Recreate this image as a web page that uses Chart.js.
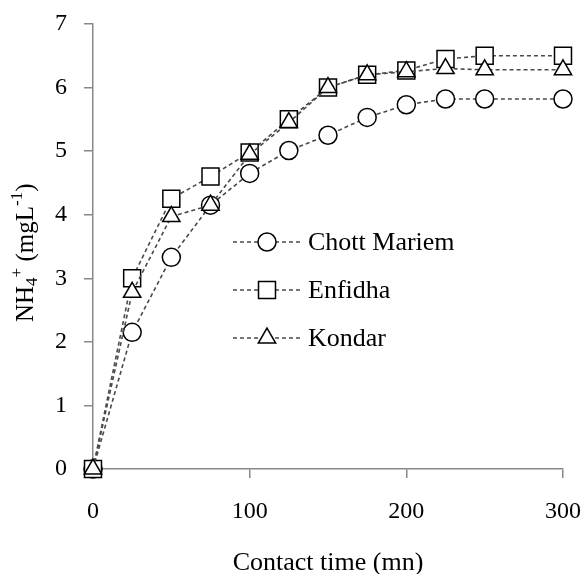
<!DOCTYPE html>
<html><head><meta charset="utf-8">
<script src="https://cdn.jsdelivr.net/npm/chart.js@4/dist/chart.umd.min.js"></script>
<style>html,body{margin:0;padding:0;background:#fff}#wrap{width:585px;height:574px}</style>
</head><body><div id="wrap"><canvas id="c" width="585" height="574"></canvas></div>
<script>
const contactTime = [0, 25, 50, 75, 100, 125, 150, 175, 200, 225, 250, 300];
const chottMariem = [0, 2.15, 3.33, 4.15, 4.65, 5.01, 5.25, 5.53, 5.73, 5.82, 5.82, 5.82];
const enfidha     = [0, 3.00, 4.25, 4.60, 4.98, 5.50, 6.00, 6.20, 6.27, 6.45, 6.50, 6.50];
const kondar      = [0, 2.78, 3.97, 4.15, 4.95, 5.45, 6.00, 6.20, 6.25, 6.30, 6.28, 6.28];
const seriesNames = ['Chott Mariem', 'Enfidha', 'Kondar'];
const xAxisTitle = 'Contact time (mn)';
const yAxisTitleParts = ['NH', '4', '+', ' (mgL', '-1', ')'];

const FONT = "'Liberation Serif', 'Times New Roman', serif";
const pts = arr => contactTime.map((t, i) => ({x: t, y: arr[i]}));

function ds(label, arr, style, radius, order) {
  return {
    label, data: pts(arr), order,
    pointStyle: style, pointRadius: radius, pointHoverRadius: radius,
    pointBackgroundColor: '#fff', pointBorderColor: '#000', pointBorderWidth: 1.5,
    borderColor: '#4a4a4a', borderWidth: 1.6, borderDash: [4, 3],
    tension: 0, fill: false, clip: false
  };
}

function drawMarker(ctx, style, x, y, r) {
  ctx.save();
  ctx.fillStyle = '#fff'; ctx.strokeStyle = '#000'; ctx.lineWidth = 1.5; ctx.setLineDash([]);
  ctx.beginPath();
  if (style === 'circle') {
    ctx.arc(x, y, r, 0, Math.PI * 2);
  } else if (style === 'rect') {
    const s = Math.SQRT1_2 * r;
    ctx.rect(x - s, y - s, 2 * s, 2 * s);
  } else if (style === 'triangle') {
    const a = -Math.PI / 2;
    ctx.moveTo(x + Math.cos(a) * r, y + Math.sin(a) * r);
    ctx.lineTo(x + Math.cos(a + 2 * Math.PI / 3) * r, y + Math.sin(a + 2 * Math.PI / 3) * r);
    ctx.lineTo(x + Math.cos(a + 4 * Math.PI / 3) * r, y + Math.sin(a + 4 * Math.PI / 3) * r);
    ctx.closePath();
  }
  ctx.fill(); ctx.stroke();
  ctx.restore();
}

const legendPlugin = {
  id: 'customLegend',
  afterDraw(chart) {
    const ctx = chart.ctx;
    const items = [0, 1, 2].map(i => chart.data.datasets[i]);
    items.forEach((d, i) => {
      const y = 242 + 48 * i;
      ctx.save();
      ctx.strokeStyle = d.borderColor; ctx.lineWidth = d.borderWidth; ctx.setLineDash(d.borderDash);
      ctx.beginPath(); ctx.moveTo(233, y); ctx.lineTo(301, y); ctx.stroke();
      ctx.restore();
      drawMarker(ctx, d.pointStyle, 267, y, d.pointRadius);
      ctx.save();
      ctx.fillStyle = '#000'; ctx.font = "26px " + FONT; ctx.textBaseline = 'middle'; ctx.textAlign = 'left';
      ctx.fillText(d.label, 308, y + 1);
      ctx.restore();
    });
  }
};

const yTitlePlugin = {
  id: 'yTitle',
  afterDraw(chart) {
    const ctx = chart.ctx;
    ctx.save();
    ctx.translate(33, 322);
    ctx.rotate(-Math.PI / 2);
    ctx.fillStyle = '#000'; ctx.textBaseline = 'alphabetic'; ctx.textAlign = 'left';
    let x = 0;
    const big = "25px " + FONT, small = "17px " + FONT;
    const seg = (t, font, dy) => { ctx.font = font; ctx.fillText(t, x, dy); x += ctx.measureText(t).width; };
    seg(yAxisTitleParts[0], big, 0);
    seg(yAxisTitleParts[1], small, 4);
    seg(yAxisTitleParts[2], small, -11);
    seg(yAxisTitleParts[3], big, 0);
    seg(yAxisTitleParts[4], small, -11);
    seg(yAxisTitleParts[5], big, 0);
    ctx.restore();
  }
};

new Chart(document.getElementById('c'), {
  type: 'line',
  data: {
    datasets: [
      ds(seriesNames[0], chottMariem, 'circle', 9, 3),
      ds(seriesNames[1], enfidha, 'rect', 12, 2),
      ds(seriesNames[2], kondar, 'triangle', 10, 1)
    ]
  },
  options: {
    responsive: false, animation: false, devicePixelRatio: 1,
    layout: {padding: {left: 0, right: 22, top: 24, bottom: 0}},
    plugins: {legend: {display: false}, tooltip: {enabled: false}, title: {display: false}},
    scales: {
      x: {
        type: 'linear', min: 0, max: 300,
        afterFit: s => { s.height = 105; s.paddingLeft = 0; s.paddingRight = 0; },
        ticks: {stepSize: 100, color: '#000', font: {family: FONT, size: 24}, padding: 19, maxRotation: 0},
        grid: {drawOnChartArea: false, tickLength: 9, lineWidth: 1.5,
               color: c => (c.tick && c.tick.value === 0) ? 'rgba(0,0,0,0)' : '#888'},
        border: {color: '#888', width: 1.5},
        title: {display: true, text: xAxisTitle, color: '#000', font: {family: FONT, size: 26, lineHeight: 0.85}, padding: {top: 0, bottom: 0}}
      },
      y: {
        type: 'linear', min: 0, max: 7,
        afterFit: s => { s.width = 93; s.paddingTop = 0; s.paddingBottom = 0; },
        ticks: {stepSize: 1, color: '#000', font: {family: FONT, size: 24}, padding: 17},
        grid: {drawOnChartArea: false, tickLength: 9, lineWidth: 1.5, color: '#888'},
        border: {color: '#888', width: 1.5}
      }
    }
  },
  plugins: [legendPlugin, yTitlePlugin]
});
</script>
</body></html>
